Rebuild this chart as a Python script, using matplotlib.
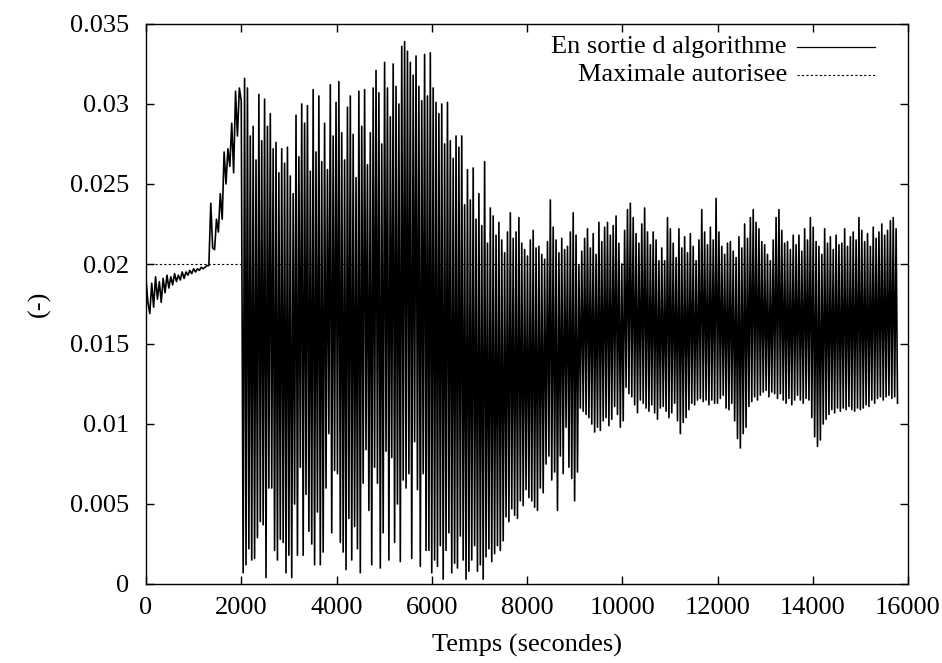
import numpy as np
import matplotlib
matplotlib.use("Agg")
import matplotlib.pyplot as plt
from matplotlib.ticker import FuncFormatter

# values in thousandths
# slow start, one sample every 40 s from t=0 to t=2000
early = [19.0, 17.6, 16.9, 18.8, 17.3, 19.2, 17.8, 18.9, 17.6, 19.1,
         18.2, 19.3, 18.5, 19.2, 18.7, 19.4, 18.9, 19.3, 19.0, 19.5,
         19.1, 19.5, 19.3, 19.6, 19.4, 19.7, 19.5, 19.7, 19.6, 19.8,
         19.7, 19.8, 19.9, 19.9, 23.8, 21.0, 20.9, 22.8, 22.0, 24.4,
         22.8, 27.0, 25.0, 27.2, 26.1, 28.8, 25.7, 30.8, 28.0, 31.0,
         30.2]
early_step = 40

# oscillation: trough at 2040 + 60k, peak at 2070 + 60k
troughs = [0.7, 1.2, 2.2, 1.5, 1.6, 2.9, 3.9, 3.7, 0.4, 6.0,
           6.0, 2.1, 1.5, 2.8, 2.6, 0.7, 1.8, 0.4, 5.0, 1.8,
           7.3, 1.8, 5.6, 3.3, 2.5, 1.2, 4.5, 1.2, 2.0, 6.0,
           9.4, 3.2, 7.1, 6.9, 2.6, 2.0, 0.9, 4.1, 1.5, 3.6,
           2.2, 0.7, 6.3, 8.4, 4.6, 1.2, 7.3, 6.3, 1.0, 3.2,
           8.3, 1.5, 7.9, 2.6, 5.0, 1.4, 6.5, 6.0, 6.9, 1.6,
           8.9, 5.9, 1.1, 6.9, 2.1, 2.1, 0.7, 1.5, 1.1, 2.4,
           0.3, 2.1, 3.2, 0.7, 1.3, 1.0, 3.0, 1.5, 0.3, 0.8,
           1.5, 2.4, 0.8, 1.2, 0.3, 1.7, 2.2, 1.4, 1.9, 2.4,
           2.1, 2.7, 4.2, 3.9, 4.7, 4.3, 4.1, 5.2, 4.9, 5.9,
           5.4, 5.2, 4.8, 4.6, 6.0, 5.7, 7.5, 8.0, 6.5, 7.0,
           4.6, 8.0, 6.9, 9.8, 7.3, 6.6, 5.2, 7.0, 11.0, 10.8,
           10.6, 10.4, 10.0, 9.5, 9.8, 9.6, 10.2, 10.4, 9.9, 10.3,
           11.1, 10.6, 9.8, 10.2, 12.3, 11.9, 11.7, 11.2, 10.7, 11.5,
           11.3, 11.0, 10.8, 11.2, 10.7, 10.3, 11.0, 11.1, 10.8, 10.4,
           10.7, 11.3, 10.2, 9.4, 10.1, 10.4, 10.9, 11.3, 11.2, 11.5,
           11.6, 11.4, 11.5, 11.2, 11.5, 11.3, 11.3, 11.6, 11.8, 11.0,
           10.9, 11.3, 10.2, 9.1, 8.5, 9.4, 9.8, 11.1, 11.4, 11.7,
           11.5, 11.8, 12.0, 12.1, 11.7, 12.0, 11.9, 11.6, 11.9, 11.5,
           11.3, 11.6, 11.2, 11.5, 11.8, 11.5, 11.3, 11.6, 11.5, 10.4,
           9.2, 8.6, 9.0, 10.0, 10.3, 10.6, 10.9, 10.7, 11.0, 10.8,
           11.0, 10.9, 11.1, 10.9, 10.8, 11.0, 10.9, 11.0, 11.2, 11.1,
           11.5, 11.3, 11.6, 11.7, 11.5, 11.7, 11.8, 11.6, 11.7, 11.3]

peaks = [31.6, 31.0, 28.0, 28.6, 26.5, 30.6, 27.7, 30.3, 28.6, 29.4,
         27.2, 27.6, 25.7, 27.2, 26.3, 27.3, 25.5, 24.4, 29.3, 26.7,
         30.0, 28.8, 29.9, 25.8, 30.9, 27.0, 30.5, 26.4, 28.8, 25.9,
         31.2, 28.0, 30.1, 31.4, 28.2, 26.5, 29.8, 30.5, 28.1, 25.4,
         30.8, 28.6, 30.9, 26.2, 28.2, 31.0, 32.1, 30.7, 27.5, 32.6,
         31.0, 29.2, 32.5, 31.1, 30.0, 33.6, 33.9, 33.3, 32.6, 31.8,
         33.0, 31.1, 30.2, 33.1, 30.5, 33.2, 31.0, 30.1, 29.4, 30.0,
         27.5, 30.1, 27.7, 26.6, 28.0, 27.3, 28.0, 23.7, 25.9, 24.0,
         26.0, 22.8, 24.4, 22.4, 26.4, 21.3, 23.5, 23.0, 21.8, 22.6,
         21.5, 20.7, 22.0, 23.2, 21.6, 22.0, 22.9, 21.3, 20.9, 20.5,
         21.5, 22.1, 21.0, 21.1, 20.6, 20.3, 21.4, 24.0, 22.3, 21.5,
         20.7, 21.6, 20.9, 21.1, 22.0, 23.2, 21.8, 19.9, 20.8, 21.6,
         22.2, 21.0, 21.9, 20.6, 22.6, 21.4, 22.3, 22.6, 21.8, 22.4,
         23.0, 21.3, 20.0, 22.1, 23.4, 23.8, 22.9, 21.9, 21.3, 22.5,
         23.5, 22.0, 21.2, 22.0, 21.5, 20.2, 21.0, 20.2, 22.9, 22.2,
         21.3, 20.4, 22.2, 21.0, 21.7, 20.7, 21.9, 21.1, 20.2, 21.5,
         23.4, 22.0, 21.2, 22.3, 21.5, 24.1, 22.0, 21.1, 20.6, 21.3,
         21.4, 20.8, 20.4, 21.7, 21.0, 22.5, 21.6, 22.9, 23.4, 22.6,
         22.2, 21.4, 21.2, 20.6, 20.2, 21.5, 22.9, 23.4, 22.1, 21.3,
         21.4, 20.9, 21.8, 21.2, 21.8, 20.8, 22.2, 21.5, 22.9, 22.3,
         21.4, 21.1, 20.6, 22.2, 21.3, 21.7, 20.9, 21.8, 21.2, 21.3,
         22.2, 21.1, 21.7, 22.0, 21.5, 22.9, 22.1, 21.4, 21.9, 21.1,
         22.3, 21.6, 22.0, 22.5, 21.8, 22.1, 22.7, 22.9, 22.2]
osc_start = 2040
osc_period = 60

limit = 0.02  # maximale autorisee
labels = ["En sortie d algorithme", "Maximale autorisee"]

# build the time series
t_early = np.arange(len(early)) * early_step
t_tr = osc_start + osc_period * np.arange(len(troughs))
t_pk = osc_start + osc_period / 2 + osc_period * np.arange(len(peaks))
t_osc = np.empty(len(troughs) + len(peaks))
v_osc = np.empty_like(t_osc)
t_osc[0::2], v_osc[0::2] = t_tr, troughs
t_osc[1::2], v_osc[1::2] = t_pk, peaks
t = np.concatenate([t_early, t_osc])
v = np.concatenate([early, v_osc]) / 1000.0

plt.rcParams['font.family'] = ['Liberation Serif', 'DejaVu Serif']
fs = 19

fig = plt.figure(figsize=(9.42, 6.63), dpi=100)
ax = fig.add_axes([146/942, 1 - 584/663, 762/942, 560/663])

ax.plot(t, v, color='black', lw=1.2)
ax.plot([0, t[-1]], [limit, limit], color='black', lw=0.8, linestyle=(0, (2, 2)))

ax.set_xlim(0, 16000)
ax.set_ylim(0, 0.035)
ax.set_xticks(np.arange(0, 16001, 2000))
ax.set_yticks(np.arange(0, 0.0351, 0.005))
fmt = FuncFormatter(lambda x, pos: "%g" % round(x, 6))
ax.xaxis.set_major_formatter(fmt)
ax.yaxis.set_major_formatter(fmt)
ax.tick_params(direction='in', length=6, width=1, top=True, right=True,
               labelsize=fs, colors='black')
ax.tick_params(axis='y', pad=12)
ax.tick_params(axis='x', pad=9)
for s in ax.spines.values():
    s.set_linewidth(1)

ax.set_xlabel("Temps (secondes)", fontsize=fs, labelpad=11)
ax.set_ylabel("(-)", fontsize=fs, labelpad=14)

# gnuplot style key: right aligned text then the sample line
key_y = [0.959, 0.909]
key_ls = ['-', (0, (2, 2))]
for lab, y, ls in zip(labels, key_y, key_ls):
    ax.text(0.841, y, lab, transform=ax.transAxes, ha='right', va='center', fontsize=fs)
    ax.plot([0.854, 0.957], [y, y], transform=ax.transAxes, color='black',
            lw=0.9 if ls == '-' else 0.8, linestyle=ls)

fig.savefig("out.png", dpi=100)
